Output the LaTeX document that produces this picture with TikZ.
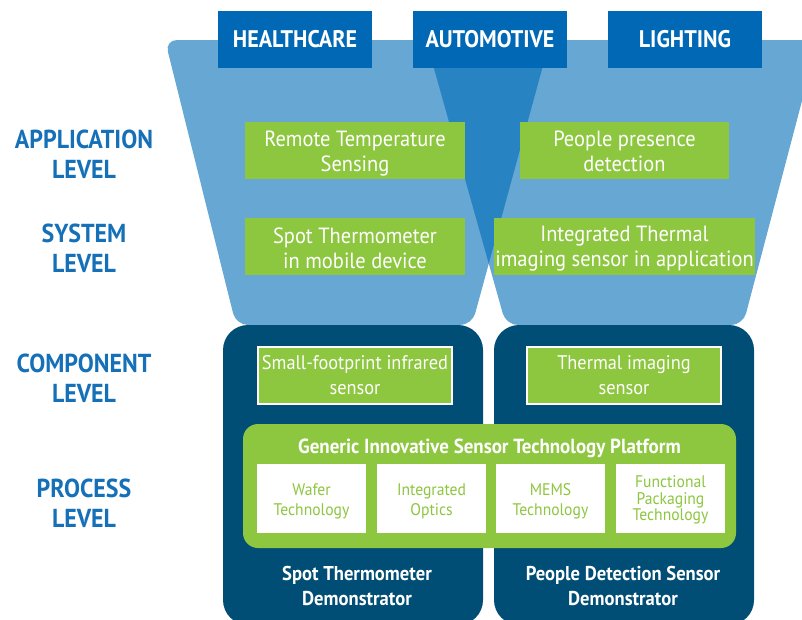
\documentclass[tikz,border=0pt]{standalone}
\usepackage{fontspec}
\setmainfont{PT Sans}
\newfontfamily\hfont{PT Sans}[FakeStretch=0.92]
\newfontfamily\bfont{PT Sans}[FakeStretch=0.93]
\definecolor{lightblue}{HTML}{67A7D4}
\definecolor{midblue}{HTML}{2883C2}
\definecolor{topblue}{HTML}{0068B4}
\definecolor{navy}{HTML}{004D75}
\definecolor{leaf}{HTML}{8DC63F}
\definecolor{lvl}{HTML}{1570B8}
\newcommand\lowtext[2]{\raisebox{-#1}[\height][\depth]{\begin{tabular}{@{}c@{}}#2\end{tabular}}}
\begin{document}
\begin{tikzpicture}[x=1pt,y=-1pt,
  topbox/.style={fill=topblue,text=white,inner sep=0pt,minimum width=154pt,minimum height=57pt,
    font=\hfont\bfseries\fontsize{24}{26}\selectfont},
  appbox/.style={fill=leaf,text=white,inner sep=0pt,minimum height=57pt,align=center,
    font=\bfont\fontsize{22}{25}\selectfont},
  compbox/.style={fill=leaf,draw=white,line width=1.5pt,text=white,inner sep=0pt,minimum width=194pt,
    minimum height=57pt,align=center,font=\bfont\fontsize{19.7}{25}\selectfont},
  tech/.style={fill=white,text=leaf,inner sep=0pt,minimum width=109pt,minimum height=69pt,align=center,
    font=\bfont\fontsize{16.8}{20}\selectfont},
  lvllabel/.style={text=lvl,align=center,font=\hfont\bfseries\fontsize{26}{30}\selectfont},
  demo/.style={text=white,align=center,font=\bfont\bfseries\fontsize{20}{24.5}\selectfont},
  navybox/.style={fill=navy,rounded corners=25pt}]
\useasboundingbox (0,0) rectangle (802,619);
% funnels
\fill[lightblue,rounded corners=12pt] (165,40) -- (550,40) -- (472,325) -- (236,325) -- cycle;
\fill[lightblue,rounded corners=12pt] (426,40) -- (818,40) -- (743,325) -- (506,325) -- cycle;
\begin{scope}
  \clip (165,40) -- (550,40) -- (472,325) -- (236,325) -- cycle;
  \fill[midblue] (426,40) -- (818,40) -- (743,325) -- (506,325) -- cycle;
\end{scope}
% top boxes
\node[topbox] (health) at (295,39.5) {HEALTHCARE};
\node[topbox] (auto) at (490,39.5) {AUTOMOTIVE};
\node[topbox] (light) at (685,39.5) {LIGHTING};
% level labels
\node[lvllabel] (app) at (84,154.5) {APPLICATION\\LEVEL};
\node[lvllabel] (sys) at (84,248) {SYSTEM\\LEVEL};
\node[lvllabel] (comp) at (84,378) {COMPONENT\\LEVEL};
\node[lvllabel] (proc) at (84,503) {PROCESS\\LEVEL};
% application / system boxes
\node[appbox,minimum width=220pt] (remote) at (355,150.5) {\lowtext{3pt}{Remote Temperature\\Sensing}};
\node[appbox,minimum width=209pt] (people) at (624.5,150.5) {\lowtext{3pt}{People presence\\detection}};
\node[appbox,minimum width=220pt] (spot) at (355,246) {\lowtext{4.5pt}{Spot Thermometer\\in mobile device}};
\node[appbox,minimum width=261pt] (integ) at (624.5,246) {\lowtext{3pt}{Integrated Thermal\\imaging sensor in application}};
% component boxes
\fill[navybox] (223,325) rectangle (483,625);
\fill[navybox] (494,325) rectangle (754,625);
\node[compbox] (small) at (355,375.5) {Small-footprint infrared\\sensor};
\node[compbox] (thermal) at (624,375.5) {Thermal imaging\\sensor};
% platform
\fill[leaf,rounded corners=15pt] (243,424) rectangle (736,548);
\node[text=white,font=\bfont\bfseries\fontsize{20.4}{22}\selectfont] (plat) at (489.5,448) {Generic Innovative Sensor Technology Platform};
\node[tech] (wafer) at (311.5,498.5) {\lowtext{3pt}{Wafer\\Technology}};
\node[tech] (optics) at (431.5,498.5) {\lowtext{3pt}{Integrated\\Optics}};
\node[tech] (mems) at (550.5,498.5) {\lowtext{3pt}{MEMS\\Technology}};
\node[tech,font=\bfont\fontsize{16.8}{16.5}\selectfont] (pack) at (670.5,498.5) {\lowtext{2pt}{Functional\\Packaging\\Technology}};
% demonstrators
\node[demo] (demoA) at (357,586) {Spot Thermometer\\Demonstrator};
\node[demo] (demoB) at (623,586) {People Detection Sensor\\Demonstrator};
\end{tikzpicture}
\end{document}
